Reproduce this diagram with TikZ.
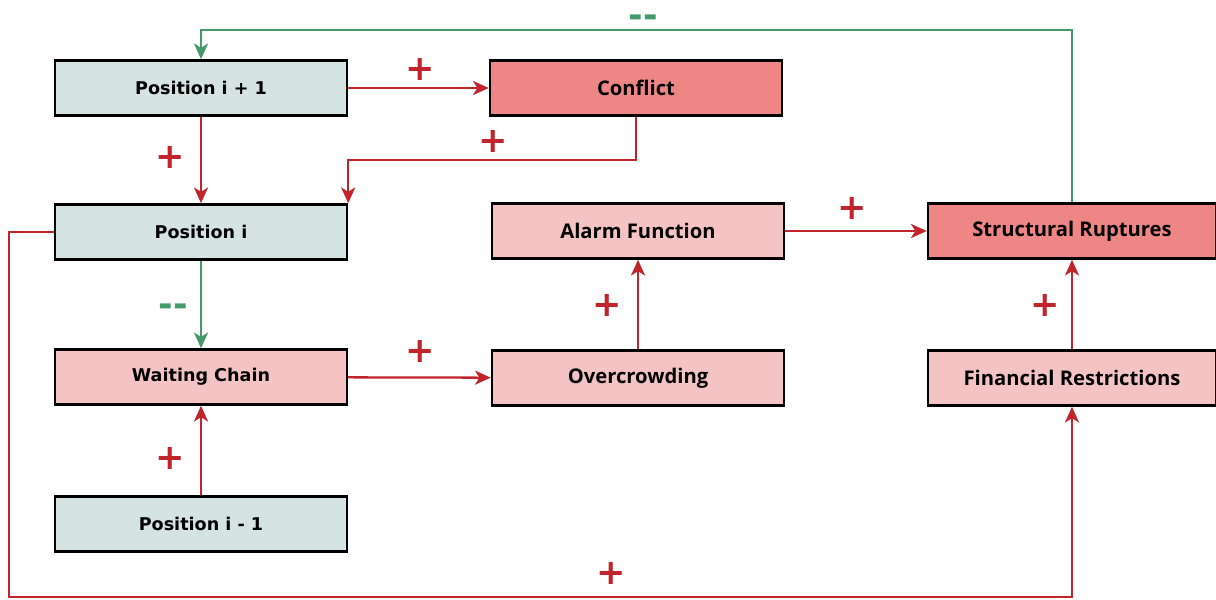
\documentclass[tikz,border=0pt]{standalone}
\usepackage{fontspec}
\setmainfont{DejaVu Sans}
\newfontfamily\rfont{Open Sans}
\usetikzlibrary{arrows.meta}

\definecolor{posfill}{HTML}{D5E3E2}
\definecolor{pinkfill}{HTML}{F4C3C3}
\definecolor{salmonfill}{HTML}{EF8686}
\definecolor{linkred}{HTML}{C2242C}
\definecolor{linkgreen}{HTML}{459A6C}

\tikzset{
  box/.style = {draw = black, line width = 1.4pt, minimum height = 1.1cm, inner sep = 0pt},
  posbox/.style = {box, fill = posfill, minimum width = 5.84cm, font = \fontsize{10}{12}\selectfont\bfseries},
  pinkbox/.style = {box, fill = pinkfill, minimum width = 5.84cm, font = \rfont\fontsize{11.5}{12}\selectfont\bfseries},
  salmonbox/.style = {box, fill = salmonfill, minimum width = 5.84cm, font = \rfont\fontsize{11.5}{12}\selectfont\bfseries},
  redarrow/.style = {draw = linkred, line width = 1.3pt, -{Stealth[length = 9pt, width = 8pt, inset = 2.5pt]}},
  greenarrow/.style = {draw = linkgreen, line width = 1.3pt, -{Stealth[length = 9pt, width = 8pt, inset = 2.5pt]}},
  plus/.style = {text = linkred, font = \fontsize{20}{20}\selectfont\bfseries, inner sep = 0pt},
  minus/.style = {text = linkgreen, font = \fontsize{20}{20}\selectfont\bfseries, inner sep = 0pt}
}

\begin{document}
\begin{tikzpicture}[x = 0.02cm, y = -0.02cm]
	\useasboundingbox (0,0) rectangle (1216,599);
	
	% the boxes
	\node[posbox] (pip1) at (201,88) {Position i + 1};
	\node[posbox] (posi) at (201,232) {Position i};
	\node[pinkbox, font = \fontsize{10}{12}\selectfont\bfseries] (wait) at (201,377) {Waiting Chain};
	\node[posbox] (pim1) at (201,524) {Position i - 1};
	\node[salmonbox] (conflict) at (636,88) {Conflict};
	\node[pinkbox] (alarm) at (638,231) {Alarm Function};
	\node[pinkbox] (over) at (638,378) {Overcrowding};
	\node[salmonbox, minimum width = 5.76cm] (rupt) at (1072,231) {Structural Ruptures};
	\node[pinkbox, minimum width = 5.76cm] (fin) at (1072,378) {Financial Restrictions};
	
	% the links
	\draw[redarrow] (pip1) -- (conflict);
	\draw[redarrow] (pip1) -- (posi);
	\draw[redarrow] (conflict.south) -- ++(0,43) -| (posi.north east);
	\draw[greenarrow] (rupt.north) -- ++(0,-172) -| (pip1.north);
	\draw[greenarrow] (posi) -- (wait);
	\draw[redarrow] (pim1) -- (wait);
	\draw[redarrow] (wait) -- (over);
	\draw[redarrow] (over) -- (alarm);
	\draw[redarrow] (alarm) -- (rupt);
	\draw[redarrow] (fin) -- (rupt);
	\draw[redarrow] (posi.west) -- ++(-45,0) -- ++(0,365) -| (fin.south);
	
	% the signs
	\node[plus] (s1) at (420,69) {+};
	\node[plus] (s2) at (170,157) {+};
	\node[plus] (s3) at (493,141) {+};
	\node[plus] (s4) at (852,208) {+};
	\node[plus] (s5) at (607,305) {+};
	\node[plus] (s6) at (1045,305) {+};
	\node[plus] (s7) at (420,351) {+};
	\node[plus] (s8) at (170,458) {+};
	\node[plus] (s9) at (611,573) {+};
	\node[minus] (m1) at (643,21) {-{}-};
	\node[minus] (m2) at (173,310) {-{}-};
\end{tikzpicture}
\end{document}
